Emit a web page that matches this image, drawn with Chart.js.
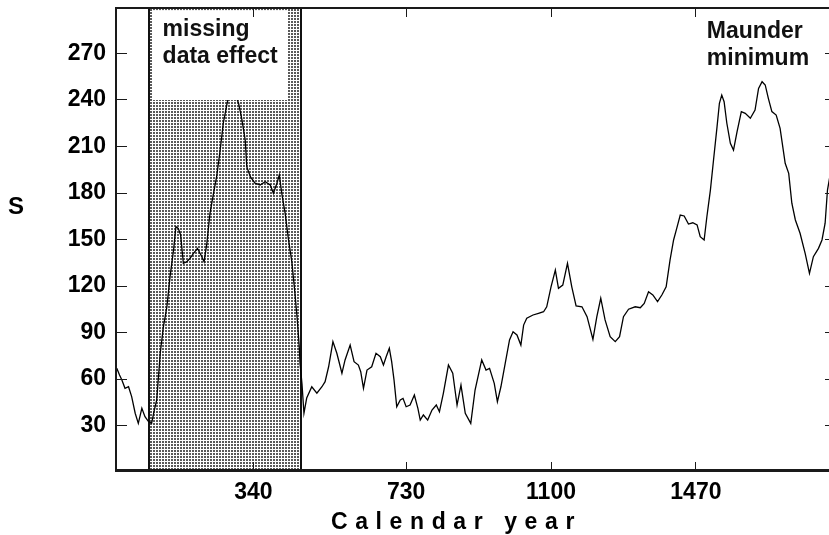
<!DOCTYPE html>
<html><head><meta charset="utf-8">
<style>html,body{margin:0;padding:0;overflow:hidden;background:#fff}canvas{display:block}</style>
<script src="https://cdn.jsdelivr.net/npm/chart.js@4/dist/chart.umd.min.js"></script>
</head><body>
<canvas id="c" width="834" height="535"></canvas>
<script>
// ---- data ----
const years = [-9,-2,4,12,21,29,38,46,55,63,
  72,80,86,93,102,110,119,127,136,142,
  148,154,161,170,178,187,197,206,214,221,
  229,238,246,255,263,272,283,293,302,310,
  319,323,332,344,357,370,383,391,400,406,
  413,421,429,438,446,452,457,459,464,469,
  476,489,502,515,523,532,543,553,566,574,
  587,597,608,614,621,630,642,653,664,672,
  679,687,693,699,706,715,722,730,740,751,
  760,766,774,785,796,807,815,825,838,849,
  860,870,881,895,906,923,934,943,955,963,
  972,983,994,1003,1013,1023,1030,1038,1054,1068,
  1081,1089,1100,1111,1119,1130,1142,1153,1164,1179,
  1192,1207,1217,1227,1238,1251,1264,1275,1285,1298,
  1315,1328,1338,1349,1360,1372,1383,1394,1404,1413,
  1421,1430,1440,1451,1462,1473,1481,1491,1498,1507,
  1515,1524,1530,1536,1542,1549,1558,1566,1575,1586,
  1596,1609,1621,1630,1639,1647,1655,1664,1675,1685,
  1698,1707,1715,1724,1736,1749,1760,1770,1783,1792,
  1800,1806,1812];
const sValues = [66.9,62.6,59.4,54,55,48.6,37.9,31.4,41.1,35.7,
  32.5,31.4,38.9,46.5,76.6,93.7,106.6,126,143.2,158.3,
  157.2,152.9,134.6,135.7,137.9,141.1,144.3,140,135.7,147.5,
  166.9,179.8,190.5,207.7,225,236.8,250,244,237.9,228.2,
  214.2,197,190.5,186.3,185.2,187.3,185.2,179.8,186.3,191.6,
  178.7,166.9,150.8,135.7,115.3,98.1,80.8,70.1,56.8,37.9,
  47.7,55,50.8,55,58.3,67.9,84.1,76.6,63.7,72.3,
  81.9,71.2,69,64.7,54,65.8,67.9,76.6,74.4,69,
  74.4,79.8,71.2,59.4,42.1,46.5,47.5,42.1,43.2,49.7,
  41.1,33.5,36.8,33.5,40,43.2,38.9,50.8,69,63.7,
  43.2,56.1,37.9,31.4,52.9,72.3,65.8,66.9,57.2,45.4,
  55,70.1,85.2,90.5,88.4,81.9,94.8,99.2,101.3,102.4,
  103.4,106.6,119.5,130.3,118.5,120.6,134.6,119.5,107.1,106.6,
  100.2,85.6,100.2,112.1,98.1,87.3,84.1,87.3,100.2,105,
  106.6,106,108.8,116.3,114.2,109.9,114.2,119.5,136.8,149.7,
  157.2,165.8,165.2,160,160.8,159.4,151.8,149.7,164.7,181.9,
  201.3,222.8,237.9,243.2,238.9,225,212.1,207.7,219.5,232.5,
  231.4,228.2,233.5,247.5,251.8,249.7,241.1,232.5,230.3,221.7,
  199.2,192.7,173.4,162.6,154,141.1,128.2,138.9,144.3,149.7,
  160.5,181.9,190.5];
const xTickValues = [340, 730, 1100, 1470];
const xTickLabels = ['340', '730', '1100', '1470'];
const yTickValues = [30, 60, 90, 120, 150, 180, 210, 240, 270];
const xRange = [-11, 1815];
const yRange = [0, 300];
const shadeRange = [74, 461];          // "missing data effect" span (years)
const shadeBoxYears = [81, 426];       // white label box, years
const shadeBoxValues = [240, 298];     // white label box, S values
const missingText = ['missing', 'data effect'];
const maunderText = ['Maunder', 'minimum'];
const missingAnchor = [108, 281];
const maunderAnchor = [1498, 280];
const xTitle = 'Calendar year';
const yTitle = 'S';

const FONT = 'bold 23px "Liberation Sans", Arial, sans-serif';

function makePattern(ctx) {
  const p = document.createElement('canvas');
  p.width = 3; p.height = 3;
  const c = p.getContext('2d');
  c.fillStyle = '#fff'; c.fillRect(0, 0, 3, 3);
  c.fillStyle = '#5a5a5a'; c.fillRect(0, 0, 2, 2);
  return ctx.createPattern(p, 'repeat');
}

const decor = {
  id: 'decor',
  beforeDatasetsDraw(chart) {
    const {ctx, chartArea: a, scales: {x}} = chart;
    const x0 = x.getPixelForValue(shadeRange[0]);
    const x1 = x.getPixelForValue(shadeRange[1]);
    ctx.save();
    ctx.fillStyle = makePattern(ctx);
    ctx.fillRect(x0, a.top, x1 - x0, a.bottom - a.top);
    ctx.fillStyle = '#111';
    ctx.fillRect(Math.round(x0) - 1, a.top, 2, a.bottom - a.top);
    ctx.fillRect(Math.round(x1) - 1, a.top, 2, a.bottom - a.top);
    ctx.restore();
  },
  afterDatasetsDraw(chart) {
    const {ctx, chartArea: a, scales: {x, y}} = chart;
    ctx.save();
    // white label box inside shaded region
    const bx0 = x.getPixelForValue(shadeBoxYears[0]);
    const bx1 = x.getPixelForValue(shadeBoxYears[1]);
    const by0 = y.getPixelForValue(shadeBoxValues[1]);
    const by1 = y.getPixelForValue(shadeBoxValues[0]);
    ctx.fillStyle = '#fff';
    ctx.fillRect(bx0, by0, bx1 - bx0, by1 - by0);

    // frame
    ctx.fillStyle = '#1a1a1a';
    ctx.fillRect(a.left - 1, a.top, a.right - a.left + 2, 2);
    ctx.fillRect(a.left - 1, a.bottom - 3, a.right - a.left + 2, 3);
    ctx.fillRect(a.left - 1, a.top, 2, a.bottom - a.top);
    ctx.fillRect(a.right - 1, a.top, 2, a.bottom - a.top);

    // inward tick marks
    yTickValues.forEach(v => {
      const py = Math.floor(y.getPixelForValue(v));
      ctx.fillRect(a.left, py, 11, 1);
      ctx.fillRect(a.right - 6, py, 6, 1);
    });
    xTickValues.forEach(v => {
      const px = Math.floor(x.getPixelForValue(v));
      ctx.fillRect(px, a.bottom - 10, 1, 8);
      ctx.fillRect(px, a.top + 2, 1, 8);
    });

    // annotations
    ctx.fillStyle = '#111';
    ctx.font = FONT;
    ctx.textAlign = 'left';
    ctx.textBaseline = 'alphabetic';
    let px = x.getPixelForValue(missingAnchor[0]);
    let py = y.getPixelForValue(missingAnchor[1]);
    missingText.forEach((t, i) => ctx.fillText(t, px, py + i * 27));
    px = x.getPixelForValue(maunderAnchor[0]);
    py = y.getPixelForValue(maunderAnchor[1]);
    maunderText.forEach((t, i) => ctx.fillText(t, px, py + i * 27));

    // axis titles
    ctx.fillStyle = '#000';
    ctx.font = 'bold 24px "Liberation Sans", Arial, sans-serif';
    ctx.textAlign = 'center';
    ctx.textBaseline = 'middle';
    ctx.fillText(yTitle, 16, 207);
    ctx.font = FONT;
    ctx.textAlign = 'left';
    ctx.textBaseline = 'alphabetic';
    try { ctx.letterSpacing = '7.6px'; } catch (e) {}
    ctx.fillText(xTitle, 331, 529);
    ctx.restore();
  }
};

new Chart(document.getElementById('c'), {
  type: 'line',
  data: {
    datasets: [{
      data: years.map((yr, i) => ({x: yr, y: sValues[i]})),
      borderColor: '#000',
      borderWidth: 1.3,
      pointRadius: 0,
      tension: 0,
      fill: false
    }]
  },
  options: {
    responsive: false,
    animation: false,
    layout: {padding: {top: 7, right: 3, left: 0, bottom: 0}},
    plugins: {legend: {display: false}, tooltip: {enabled: false}},
    scales: {
      x: {
        type: 'linear',
        min: xRange[0], max: xRange[1],
        afterBuildTicks: s => { s.ticks = xTickValues.map(v => ({value: v})); },
        afterFit: s => { s.height = 63; s.paddingLeft = 0; s.paddingRight = 0; },
        grid: {display: false, drawTicks: false},
        border: {display: false},
        ticks: {
          padding: 7,
          color: '#000',
          font: {family: '"Liberation Sans", Arial, sans-serif', size: 23, weight: 'bold'},
          callback: v => xTickLabels[xTickValues.indexOf(v)]
        }
      },
      y: {
        min: yRange[0], max: yRange[1],
        afterBuildTicks: s => { s.ticks = yTickValues.map(v => ({value: v})); },
        afterFit: s => { s.width = 116; s.paddingTop = 0; s.paddingBottom = 0; },
        grid: {display: false, drawTicks: false},
        border: {display: false},
        ticks: {
          padding: 10,
          color: '#000',
          font: {family: '"Liberation Sans", Arial, sans-serif', size: 23, weight: 'bold'},
          callback: v => String(v)
        }
      }
    }
  },
  plugins: [decor]
});
</script>
</body></html>
